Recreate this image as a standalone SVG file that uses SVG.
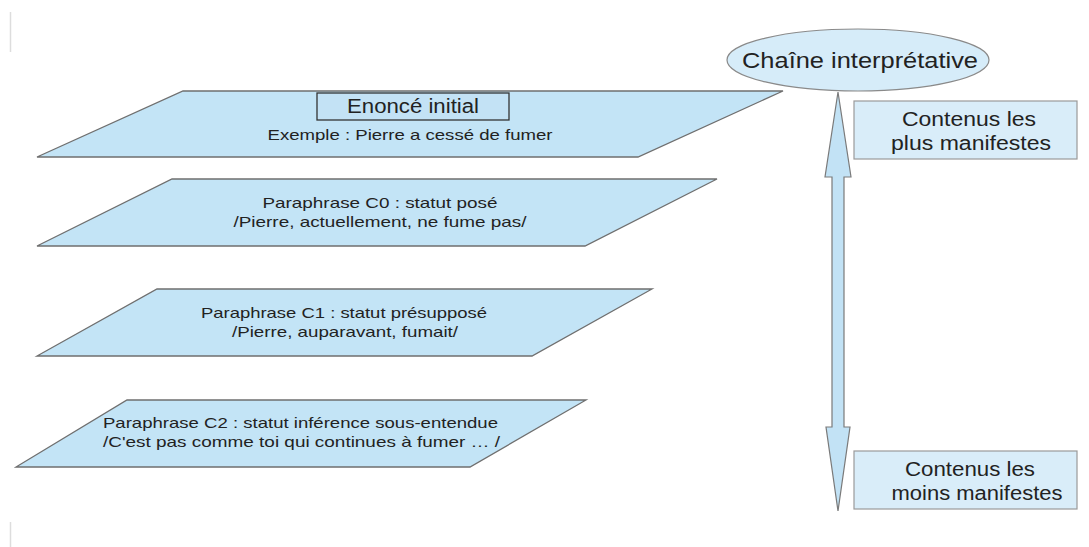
<svg xmlns="http://www.w3.org/2000/svg" width="1089" height="547" viewBox="0 0 1089 547">
<style>
.bg{fill:#ffffff}
.plane{fill:#c3e4f6;stroke:#6f6f6f;stroke-width:1.3}
.lbl{fill:#c3e2f5;stroke:#333333;stroke-width:1.3}
.side{fill:#d9edf9;stroke:#9a9a9a;stroke-width:1.2}
.ell{fill:#d6ecf9;stroke:#8a8a8a;stroke-width:1.2}
.arrow{fill:#c2e2f5;stroke:#7a7a7a;stroke-width:1.2}
.edge{stroke:#dddddd;stroke-width:1.5}
text{font-family:"Liberation Sans",Arial,sans-serif;fill:#222222}
.s{font-size:15px}
.m{font-size:20px}
.l{font-size:22px}
</style>
<rect class="bg" x="0" y="0" width="1089" height="547"/>
<line class="edge" x1="10.5" y1="12" x2="10.5" y2="52"/>
<line class="edge" x1="10.5" y1="522" x2="10.5" y2="547"/>

<g id="connectors">
<path class="arrow" d="M838,92 L851,177 L844,177 L844,427 L850,427 L838,511 L826,427 L832,427 L832,177 L825,177 Z"/>
</g>

<g id="enonce">
<polygon class="plane" points="183,91 783,91 638,157 37,157"/>
<rect class="lbl" x="317" y="93" width="192" height="27"/>
<text class="m" x="413" y="113" text-anchor="middle" textLength="132" lengthAdjust="spacingAndGlyphs">Enoncé initial</text>
<text class="s" x="410" y="140" text-anchor="middle" textLength="285" lengthAdjust="spacingAndGlyphs">Exemple : Pierre a cessé de fumer</text>
</g>

<g id="c0">
<polygon class="plane" points="172,179 717,179 585,246 37,246"/>
<text class="s" x="380" y="208" text-anchor="middle" textLength="235" lengthAdjust="spacingAndGlyphs">Paraphrase C0 : statut posé</text>
<text class="s" x="380" y="227" text-anchor="middle" textLength="293" lengthAdjust="spacingAndGlyphs">/Pierre, actuellement, ne fume pas/</text>
</g>

<g id="c1">
<polygon class="plane" points="157,289 652,289 532,356 37,356"/>
<text class="s" x="344" y="318" text-anchor="middle" textLength="286" lengthAdjust="spacingAndGlyphs">Paraphrase C1 : statut présupposé</text>
<text class="s" x="345" y="337" text-anchor="middle" textLength="226" lengthAdjust="spacingAndGlyphs">/Pierre, auparavant, fumait/</text>
</g>

<g id="c2">
<polygon class="plane" points="127,400 586,400 470,467 16,467"/>
<text class="s" x="103" y="428" textLength="395" lengthAdjust="spacingAndGlyphs">Paraphrase C2 : statut inférence sous-entendue</text>
<text class="s" x="103" y="447" textLength="397" lengthAdjust="spacingAndGlyphs">/C'est pas comme toi qui continues à fumer … /</text>
</g>

<g id="chaine">
<ellipse class="ell" cx="858" cy="60" rx="131" ry="31"/>
<text class="l" x="860" y="68" text-anchor="middle" textLength="236" lengthAdjust="spacingAndGlyphs">Chaîne  interprétative</text>
</g>

<g id="plus">
<rect class="side" x="854" y="101" width="223" height="58"/>
<text class="m" x="969" y="126" text-anchor="middle" textLength="134" lengthAdjust="spacingAndGlyphs">Contenus les</text>
<text class="m" x="971" y="150" text-anchor="middle" textLength="160" lengthAdjust="spacingAndGlyphs">plus manifestes</text>
</g>

<g id="moins">
<rect class="side" x="854" y="451" width="223" height="58"/>
<text class="m" x="970" y="476" text-anchor="middle" textLength="130" lengthAdjust="spacingAndGlyphs">Contenus les</text>
<text class="m" x="977" y="500" text-anchor="middle" textLength="171" lengthAdjust="spacingAndGlyphs">moins manifestes</text>
</g>
</svg>
